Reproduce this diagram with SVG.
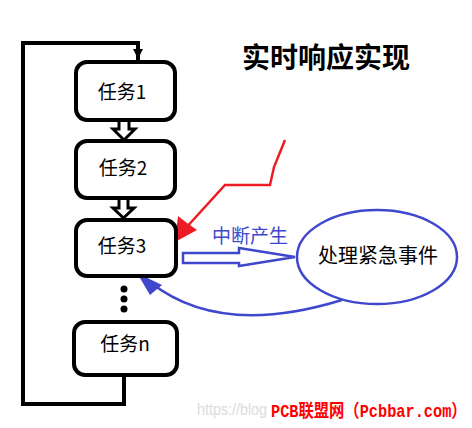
<svg xmlns="http://www.w3.org/2000/svg" width="472" height="428" viewBox="0 0 472 428">
<defs>
<style>
.box{fill:#fff;stroke:#000;stroke-width:4}
.lbl{font-family:"Noto Sans CJK SC","Liberation Sans",sans-serif;font-size:19px;fill:#000;text-anchor:middle}
.loop{fill:none;stroke:#000;stroke-width:4;stroke-linejoin:miter}
.hollow{fill:#fff;stroke:#000;stroke-width:3;stroke-linejoin:miter}
.blue{stroke:#3f48cc;fill:none;stroke-width:2.5}
</style>
</defs>
<rect width="472" height="428" fill="#fff"/>
<text x="326" y="68" font-family="'Noto Sans CJK SC',sans-serif" font-size="28" font-weight="bold" text-anchor="middle" fill="#000">实时响应实现</text>
<g id="connectors">
<polyline class="loop" points="138,60 138,43 23,43 23,404 124,404 124,375"/>
<polygon points="133,49 143,49 138,59" fill="#000"/>
<polygon class="hollow" points="119,119 129,119 129,129 135,129 124,140 113,129 119,129"/>
<polygon class="hollow" points="119,198 128,198 128,208 134,208 123.5,218 113,208 119,208"/>
<polyline points="285,140 274,167 270,185 225,185 184,230" fill="none" stroke="#ed1c24" stroke-width="2.5"/>
<polygon points="175,242 178,216 187,223 197,230" fill="#ed1c24"/>
<polygon points="183,253 239,253 239,248 295,257 239,266 239,263 183,263" fill="#fff" stroke="#3f48cc" stroke-width="2.5"/>
<path class="blue" d="M342,300 C290,316 210,330 150,282"/>
<polygon points="137,273 162,285 150,295" fill="#3f48cc"/>
<circle cx="124" cy="289" r="3.5" fill="#000"/>
<circle cx="124" cy="299" r="3.5" fill="#000"/>
<circle cx="124" cy="309" r="3.5" fill="#000"/>
</g>
<g id="task1"><rect class="box" x="76" y="62" width="99" height="58" rx="11"/><text class="lbl" x="122" y="99">任务1</text></g>
<g id="task2"><rect class="box" x="76" y="141" width="99" height="57" rx="11"/><text class="lbl" x="123" y="175">任务2</text></g>
<g id="task3"><rect class="box" x="76" y="220" width="100" height="56" rx="11"/><text class="lbl" x="122" y="253">任务3</text></g>
<g id="taskn"><rect class="box" x="74" y="322" width="103" height="53" rx="11"/><text class="lbl" x="125" y="351">任务n</text></g>
<g id="event"><ellipse cx="377" cy="257" rx="80" ry="47" class="blue"/><text x="378" y="263" font-family="'Noto Sans CJK SC',sans-serif" font-size="20" text-anchor="middle" fill="#000">处理紧急事件</text></g>
<text x="250" y="243" font-family="'Noto Sans CJK SC',sans-serif" font-size="19" text-anchor="middle" fill="#3f48cc">中断产生</text>
<text x="197" y="415" font-family="'Liberation Sans',sans-serif" font-size="16" fill="#dcdcdc" textLength="70" lengthAdjust="spacingAndGlyphs">https://blog</text>
<text transform="translate(271,417) scale(0.85,1)" x="0" y="0" font-family="'Liberation Mono','Noto Sans CJK SC',monospace" font-size="18" font-weight="bold" fill="#ff0000">PCB联盟网（Pcbbar.com）</text>
</svg>
